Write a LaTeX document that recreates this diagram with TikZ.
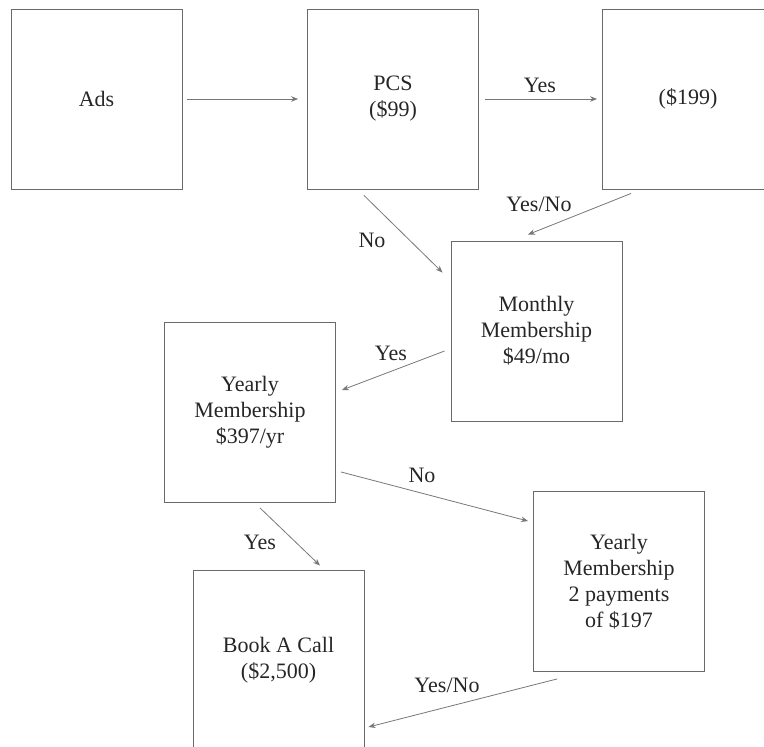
\documentclass[tikz,border=0pt]{standalone}
\usepackage{fontspec}
\setmainfont{Liberation Serif}
\usetikzlibrary{arrows.meta}
\definecolor{boxline}{HTML}{6A6A6A}
\definecolor{arrowline}{HTML}{777777}
\definecolor{inktext}{HTML}{262626}
\tikzset{
  stagebox/.style={draw=boxline, line width=0.9pt, rectangle, inner sep=0pt,
    minimum width=171pt, minimum height=180pt, align=center, text=inktext,
    font=\fontsize{22}{26}\selectfont},
  flow/.style={draw=arrowline, line width=0.8pt,
    -{Stealth[length=7pt,width=5.5pt]}},
  choice/.style={text=inktext, font=\fontsize{22}{26}\selectfont, inner sep=0pt}
}
\begin{document}
\begin{tikzpicture}[x=1pt, y=-1pt]
  \useasboundingbox (0,0) rectangle (764,747);
  \clip (0,0) rectangle (764,747);

  % stages of the funnel
  \node[stagebox] (ads)     at (96.5,99)   {Ads};
  \node[stagebox] (pcs)     at (393,99)    {PCS\\(\$99)};
  \node[stagebox] (upsell)  at (688,99)    {(\$199)};
  \node[stagebox] (monthly) at (536.5,331) {Monthly\\Membership\\\$49/mo};
  \node[stagebox] (yearly)  at (250,412.5) {Yearly\\Membership\\\$397/yr};
  \node[stagebox] (split)   at (619,581.5) {Yearly\\Membership\\2 payments\\of \$197};
  \node[stagebox] (call)    at (278.5,660) {Book A Call\\(\$2,500)};

  % transitions between stages
  \draw[flow, shorten <=5pt, shorten >=9pt] (ads.east) -- (pcs.west);
  \draw[flow, shorten <=6pt, shorten >=5pt] (pcs.east) -- (upsell.west);
  \draw[flow] ([shift={(29,4)}]upsell.south west) -- ([shift={(-8.5,-6)}]monthly.north);
  \draw[flow] ([shift={(-29,6)}]pcs.south) -- ([shift={(-8,32)}]monthly.north west);
  \draw[flow] ([shift={(-6,20)}]monthly.west) -- ([shift={(6,-22.5)}]yearly.east);
  \draw[flow] ([shift={(5,-31)}]yearly.south east) -- ([shift={(-5,30)}]split.north west);
  \draw[flow] ([shift={(10,5)}]yearly.south) -- ([shift={(41.5,-4)}]call.north);
  \draw[flow] ([shift={(24,7)}]split.south west) -- ([shift={(4,67)}]call.east);

  % answers written beside the transitions
  \node[choice] (l1) at (540,85)  {Yes};
  \node[choice] (l2) at (539,204) {Yes/No};
  \node[choice] (l3) at (372,240) {No};
  \node[choice] (l4) at (391,353) {Yes};
  \node[choice] (l5) at (422,475) {No};
  \node[choice] (l6) at (260,542) {Yes};
  \node[choice] (l7) at (447,685) {Yes/No};
\end{tikzpicture}
\end{document}
